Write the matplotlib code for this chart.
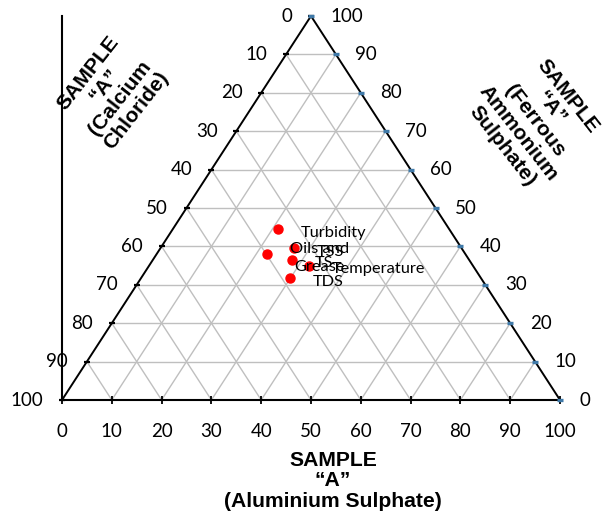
import numpy as np
from matplotlib import pyplot as plt

plt.rcParams['font.family'] = ['Lato', 'DejaVu Sans']

# readings on the bottom axis (Aluminium Sulphate) and right axis (Ferrous Ammonium Sulphate)
labels = ['Turbidity', 'Oils and\nGrease', 'TSS', 'TS', 'Temperature', 'TDS']
al_sulphate = [43.4, 41.1, 46.6, 46.2, 49.5, 45.8]
fe_sulphate = [44.5, 37.9, 39.5, 36.5, 35.0, 31.7]

levels = np.arange(0, 101, 10)

fig = plt.figure(figsize=(6.14, 5.21), dpi=100)
ax = fig.add_axes([62 / 614, 1 - 400 / 521, 498 / 614, 384 / 521])
ax.set_xlim(0, 100)
ax.set_ylim(0, 100)
ax.axis('off')

grid_c = '#BFBFBF'
# grid: horizontal lines plus lines parallel to both sides
for k in levels[1:-1]:
    ax.plot([k / 2, 100 - k / 2], [k, k], color=grid_c, lw=1.0, zorder=1)
    ax.plot([k, (100 + k) / 2], [0, 100 - k], color=grid_c, lw=1.0, zorder=1)
    ax.plot([k, k / 2], [0, k], color=grid_c, lw=1.0, zorder=1)

# triangle sides and the plain left axis line
ax.plot([0, 50, 100], [0, 100, 0], color='black', lw=1.4, zorder=2, clip_on=False)
ax.plot([0, 100], [0, 0], color='black', lw=1.5, zorder=2, clip_on=False)
ax.plot([0, 0], [0, 100], color='black', lw=1.5, zorder=2, clip_on=False)

# tick marks
ax.plot(levels, np.zeros_like(levels), ls='none', marker='|', ms=6, mew=1.3,
        color='black', zorder=3, clip_on=False)
ax.plot(levels / 2, levels, ls='none', marker='_', ms=5, mew=1.6,
        color='black', zorder=3, clip_on=False)
ax.plot(100 - levels / 2, levels, ls='none', marker='_', ms=4.5, mew=2.4,
        color='#3F79A8', zorder=3, clip_on=False)

# axis numbers
for k in levels:
    ax.annotate(str(k), (k, 0), xytext=(0, -23), textcoords='offset points',
                ha='center', va='center', fontsize=13.5)
    ax.annotate(str(100 - k), (k / 2, k), xytext=(-13.5, 0), textcoords='offset points',
                ha='right', va='center', fontsize=13.5)
    ax.annotate(str(k), (100 - k / 2, k), xytext=(14, 0), textcoords='offset points',
                ha='left', va='center', fontsize=13.5)

# samples
ax.plot(al_sulphate, fe_sulphate, ls='none', marker='o', ms=6.5, color='red',
        zorder=4, clip_on=False)
for lab, x, y in zip(labels, al_sulphate, fe_sulphate):
    ax.annotate(lab, (x, y), xytext=(16.5, -2.5), textcoords='offset points',
                ha='left', va='center', multialignment='center', fontsize=11.8,
                linespacing=1.35, zorder=5)

title_font = dict(family=['Liberation Sans', 'DejaVu Sans'], fontweight='bold',
                  fontsize=15.2, linespacing=1.1, ha='center', va='center',
                  multialignment='center')
fig.text(112 / 614, 1 - 92 / 521, 'SAMPLE\n\u201cA\u201d\n(Calcium\nChloride)',
         rotation=52, **title_font)
fig.text(535 / 614, 1 - 121 / 521, 'SAMPLE\n\u201cA\u201d\n(Ferrous\nAmmonium\nSulphate)',
         rotation=-52, **title_font)
fig.text(333 / 614, 1 - 481 / 521, 'SAMPLE\n\u201cA\u201d\n(Aluminium Sulphate)',
         **title_font)

fig.savefig('out.png', dpi=100)
